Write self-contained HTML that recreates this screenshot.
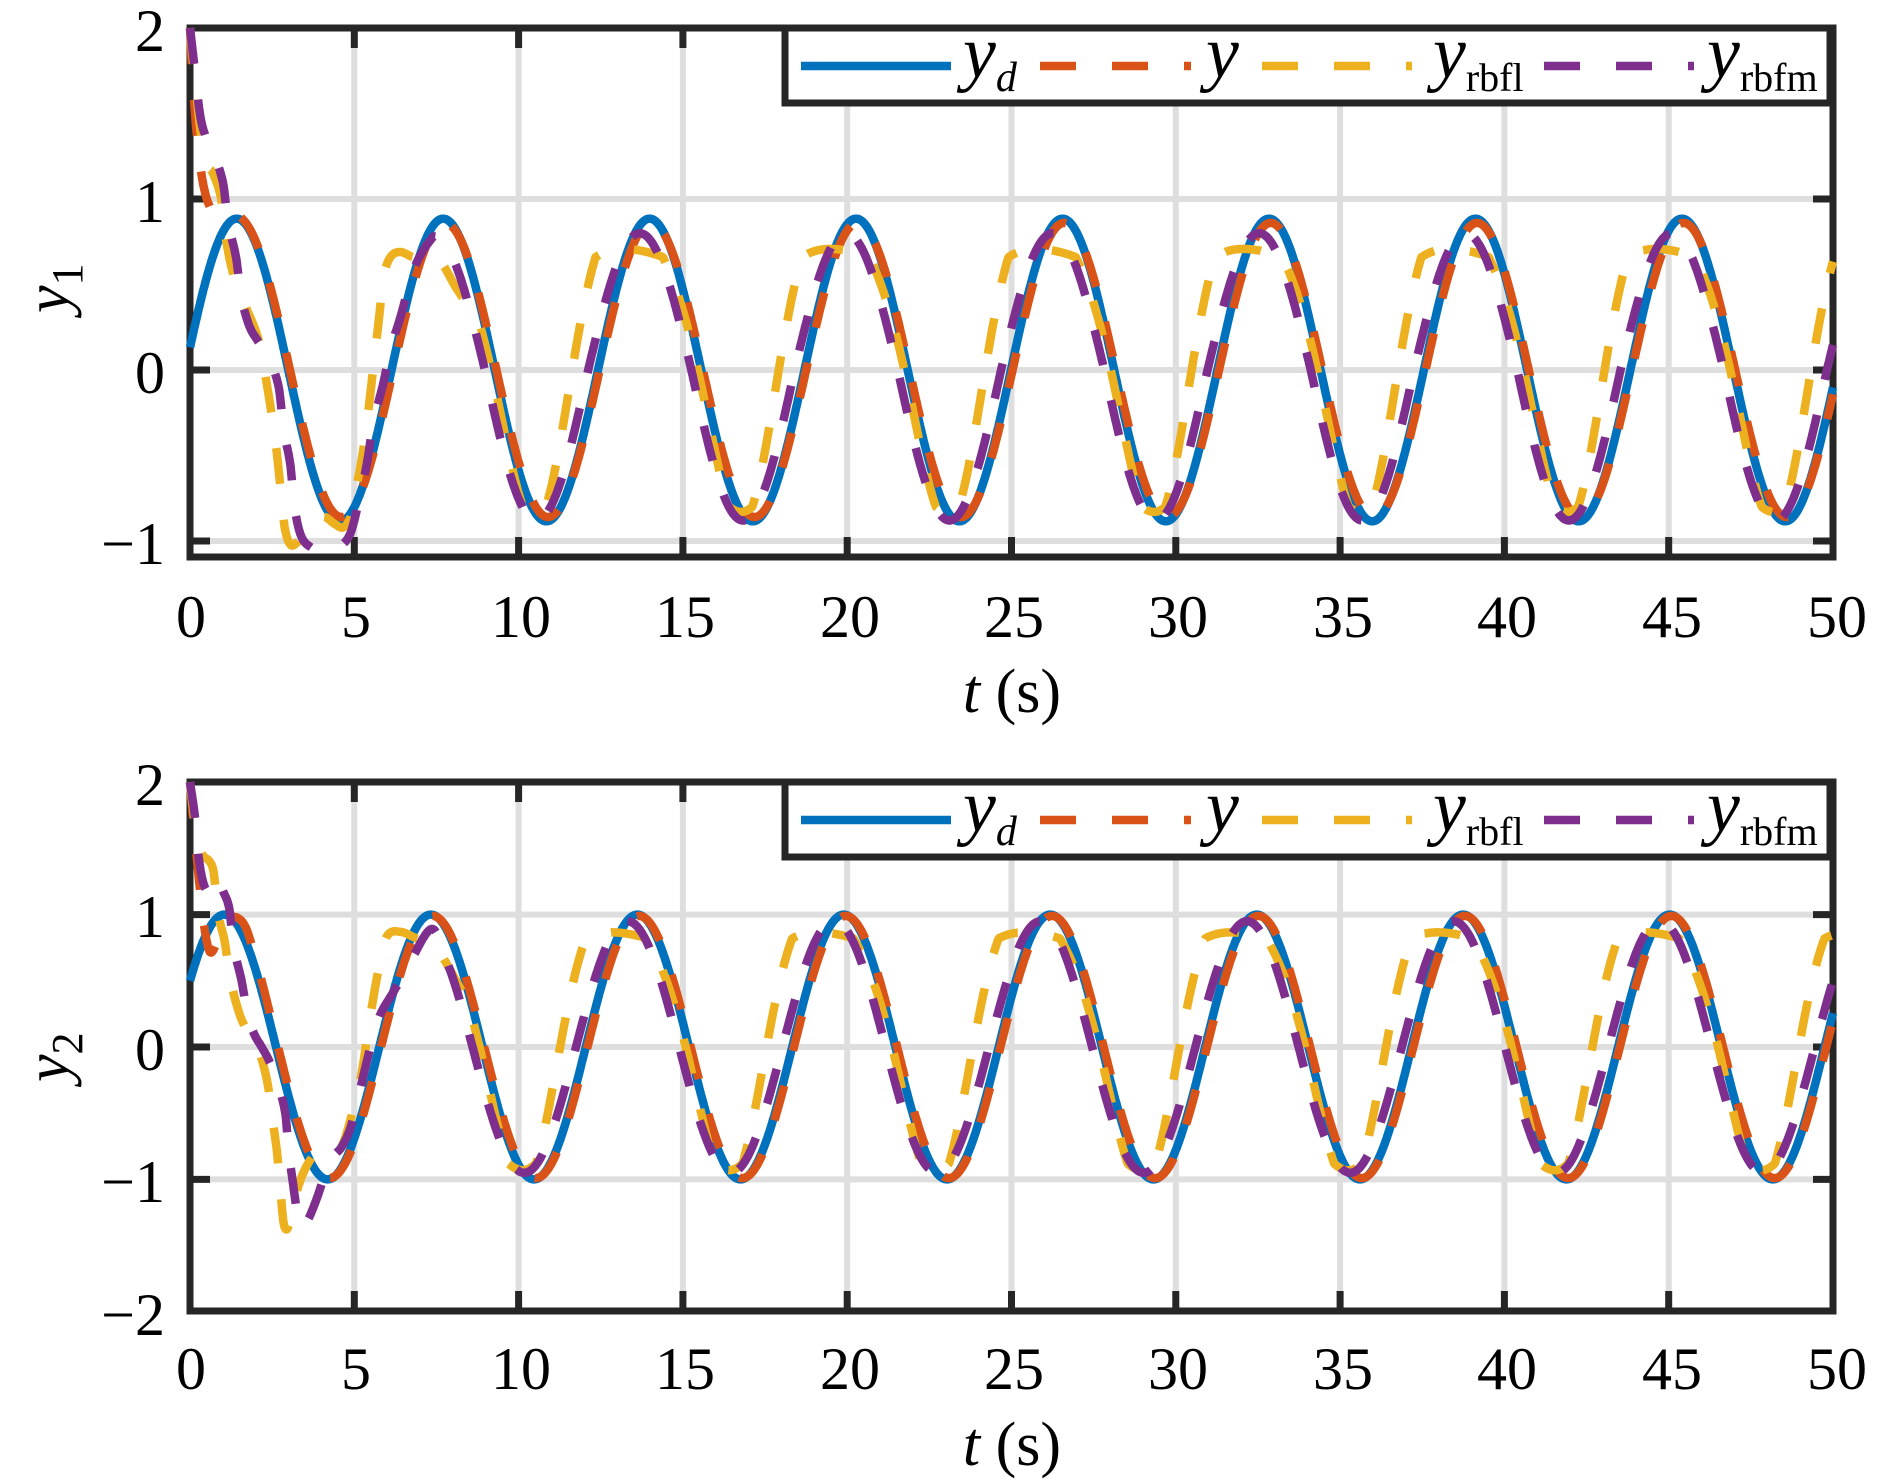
<!DOCTYPE html>
<html><head><meta charset="utf-8">
<style>
html,body{margin:0;padding:0;background:#fff;}
svg{display:block;}
text{font-family:"Liberation Serif","Times New Roman",serif;fill:#000;}
</style></head>
<body>
<svg width="1890" height="1484" viewBox="0 0 1890 1484" xmlns="http://www.w3.org/2000/svg">
<rect width="1890" height="1484" fill="#fff"/>

<!-- grid top -->
<g stroke="#dedede" stroke-width="6" fill="none">
<path d="M354.3 28V557M518.6 28V557M682.9 28V557M847.2 28V557M1011.5 28V557M1175.8 28V557M1340.1 28V557M1504.4 28V557M1668.7 28V557M190 199H1833M190 370H1833M190 541H1833"/>
<path d="M354.3 782V1311M518.6 782V1311M682.9 782V1311M847.2 782V1311M1011.5 782V1311M1175.8 782V1311M1340.1 782V1311M1504.4 782V1311M1668.7 782V1311M190 914.6H1833M190 1047H1833M190 1179.4H1833"/>
</g>

<!-- axes -->
<g stroke="#262626" stroke-width="7" fill="none">
<rect x="190" y="28" width="1643" height="529"/>
<path d="M354.3 557V537M518.6 557V537M682.9 557V537M847.2 557V537M1011.5 557V537M1175.8 557V537M1340.1 557V537M1504.4 557V537M1668.7 557V537
M354.3 28V48M518.6 28V48M682.9 28V48M847.2 28V48M1011.5 28V48M1175.8 28V48M1340.1 28V48M1504.4 28V48M1668.7 28V48
M190 199H210M190 370H210M190 541H210M1833 199H1813M1833 370H1813M1833 541H1813"/>
<rect x="190" y="782" width="1643" height="529"/>
<path d="M354.3 1311V1291M518.6 1311V1291M682.9 1311V1291M847.2 1311V1291M1011.5 1311V1291M1175.8 1311V1291M1340.1 1311V1291M1504.4 1311V1291M1668.7 1311V1291
M354.3 782V802M518.6 782V802M682.9 782V802M847.2 782V802M1011.5 782V802M1175.8 782V802M1340.1 782V802M1504.4 782V802M1668.7 782V802
M190 914.6H210M190 1047H210M190 1179.4H210M1833 914.6H1813M1833 1047H1813M1833 1179.4H1813"/>
</g>

<!-- tick labels top -->
<g font-size="60" text-anchor="end">
<text x="165" y="51">2</text>
<text x="165" y="222">1</text>
<text x="165" y="393">0</text>
<text x="165" y="564">−1</text>
<text x="165" y="805">2</text>
<text x="165" y="937">1</text>
<text x="165" y="1070">0</text>
<text x="165" y="1202">−1</text>
<text x="165" y="1335">−2</text>
</g>
<g font-size="60" text-anchor="middle">
<text x="191" y="637">0</text><text x="356" y="637">5</text><text x="521" y="637">10</text><text x="685" y="637">15</text><text x="850" y="637">20</text><text x="1014" y="637">25</text><text x="1178" y="637">30</text><text x="1343" y="637">35</text><text x="1507" y="637">40</text><text x="1672" y="637">45</text><text x="1837" y="637">50</text>
<text x="191" y="1389">0</text><text x="356" y="1389">5</text><text x="521" y="1389">10</text><text x="685" y="1389">15</text><text x="850" y="1389">20</text><text x="1014" y="1389">25</text><text x="1178" y="1389">30</text><text x="1343" y="1389">35</text><text x="1507" y="1389">40</text><text x="1672" y="1389">45</text><text x="1837" y="1389">50</text>
</g>

<!-- axis labels -->
<text x="1012" y="712" font-size="62" text-anchor="middle"><tspan font-style="italic">t</tspan> (s)</text>
<text x="1012" y="1465" font-size="62" text-anchor="middle"><tspan font-style="italic">t</tspan> (s)</text>
<text transform="translate(68,313) rotate(-90)" font-size="62"><tspan font-style="italic">y</tspan><tspan font-size="44" dy="14">1</tspan></text>
<text transform="translate(68,1082) rotate(-90)" font-size="62"><tspan font-style="italic">y</tspan><tspan font-size="44" dy="14">2</tspan></text>

<!-- data top -->
<g fill="none" stroke-width="8.5" stroke-linejoin="round">
<path id="tb" stroke="#0072BD"/>
<path id="to" stroke="#D95319" stroke-dasharray="36 36"/>
<path id="ty" stroke="#EDB120" stroke-dasharray="36 36"/>
<path id="tp" stroke="#7E2F8E" stroke-dasharray="36 36"/>
<path id="bb" stroke="#0072BD"/>
<path id="bo" stroke="#D95319" stroke-dasharray="36 36"/>
<path id="by" stroke="#EDB120" stroke-dasharray="36 36"/>
<path id="bp" stroke="#7E2F8E" stroke-dasharray="36 36"/>
</g>

<!-- legend top -->
<rect x="785" y="28" width="1045" height="75" fill="#fff" stroke="#262626" stroke-width="7"/>
<g fill="none" stroke-width="8.5">
<path d="M801 66H951" stroke="#0072BD"/>
<path d="M1040 66H1191" stroke="#D95319" stroke-dasharray="36 36"/>
<path d="M1262 66H1412" stroke="#EDB120" stroke-dasharray="36 36"/>
<path d="M1544 66H1694" stroke="#7E2F8E" stroke-dasharray="36 36"/>
</g>
<text x="963" y="77" font-size="74"><tspan font-style="italic">y</tspan><tspan font-size="42" font-style="italic" dy="14">d</tspan></text>
<text x="1206" y="77" font-size="74" font-style="italic">y</text>
<text x="1433" y="77" font-size="74"><tspan font-style="italic">y</tspan><tspan font-size="40" dy="14">rbfl</tspan></text>
<text x="1707" y="77" font-size="74"><tspan font-style="italic">y</tspan><tspan font-size="40" dy="14">rbfm</tspan></text>

<!-- legend bottom -->
<rect x="785" y="782" width="1045" height="75" fill="#fff" stroke="#262626" stroke-width="7"/>
<g fill="none" stroke-width="8.5">
<path d="M801 820H951" stroke="#0072BD"/>
<path d="M1040 820H1191" stroke="#D95319" stroke-dasharray="36 36"/>
<path d="M1262 820H1412" stroke="#EDB120" stroke-dasharray="36 36"/>
<path d="M1544 820H1694" stroke="#7E2F8E" stroke-dasharray="36 36"/>
</g>
<text x="963" y="831" font-size="74"><tspan font-style="italic">y</tspan><tspan font-size="42" font-style="italic" dy="14">d</tspan></text>
<text x="1206" y="831" font-size="74" font-style="italic">y</text>
<text x="1433" y="831" font-size="74"><tspan font-style="italic">y</tspan><tspan font-size="40" dy="14">rbfl</tspan></text>
<text x="1707" y="831" font-size="74"><tspan font-style="italic">y</tspan><tspan font-size="40" dy="14">rbfm</tspan></text>
</svg>

<script>
(function(){
var X=function(t){return 190+32.86*t;};
var YT=function(y){return 370-171*y;};
var YB=function(y){return 1047-132.4*y;};
function herm(p,t){
  var n=p.length;
  if(t<=p[0][0])return p[0][1];
  var i=0;
  while(i<n-2&&t>p[i+1][0])i++;
  var p0=p[Math.max(i-1,0)],p1=p[i],p2=p[i+1],p3=p[Math.min(i+2,n-1)];
  var h=p2[0]-p1[0];
  var u=(t-p1[0])/h;
  var m1=(p2[1]-p0[1])/(p2[0]-p0[0])*h;
  var m2=(p3[1]-p1[1])/(p3[0]-p1[0])*h;
  var u2=u*u,u3=u2*u;
  return (2*u3-3*u2+1)*p1[1]+(u3-2*u2+u)*m1+(-2*u3+3*u2)*p2[1]+(u3-u2)*m2;
}
function mk(pts,ss,tau){
  if(!pts)return ss;
  var te=pts[pts.length-1][0];
  var off=pts[pts.length-1][1]-ss(te);
  return function(t){return t<=te?herm(pts,t):ss(t)+off*Math.exp(-(t-te)/tau);};
}
function path(f,Y){
  var d='';
  for(var i=0;i<=2500;i++){
    var t=i*0.02;
    d+=(i?'L':'M')+X(t).toFixed(1)+' '+Y(f(t)).toFixed(1);
  }
  return d;
}
function set(id,d){document.getElementById(id).setAttribute('d',d);}

/* top plot */
var yd1=function(t){return 0.885*Math.sin(t+0.15);};
var o1=function(t){return 0.86*Math.sin(t+0.1)+(2-0.86*Math.sin(0.1))*Math.exp(-2.6*t);};
var yl1ss=function(t){var th=t+0.15;var tp=th+0.5+0.4*Math.cos(th);var s=0.9*Math.sin(tp);
  if(s>0.66)s=0.66+(s-0.66)*0.2; if(s<-0.8)s=-0.8+(s+0.8)*0.3; return s;};
var p1ss=function(t){var s=0.8*Math.sin(t+0.45);return s<0?s*1.1:s;};
var yl1pts=[[0,2.0],[0.15,1.7],[0.35,1.35],[0.52,1.2],[0.7,1.15],[0.96,0.99],[1.1,0.76],[1.32,0.56],[1.72,0.36],[2.08,0.18],[2.3,-0.04],[2.5,-0.28],[2.65,-0.5],[2.77,-0.72],[2.88,-0.92],[3.05,-1.02],[3.25,-1.01],[3.6,-0.93],[4.06,-0.86],[4.4,-0.9],[4.67,-0.92],[4.9,-0.85],[5.07,-0.68],[5.27,-0.47],[5.45,-0.2],[5.6,0.05],[5.75,0.3],[5.9,0.55],[6.1,0.66],[6.4,0.69],[6.8,0.66],[7.2,0.66],[7.6,0.64],[8.1,0.48],[8.8,0.28]];
var p1pts=[[0,2.0],[0.12,1.8],[0.3,1.5],[0.45,1.38],[0.71,1.27],[1.01,1.09],[1.15,0.87],[1.4,0.66],[1.55,0.44],[1.8,0.26],[2.1,0.16],[2.38,0.07],[2.7,-0.1],[2.85,-0.35],[3.05,-0.55],[3.18,-0.8],[3.38,-0.97],[3.7,-1.04],[3.96,-1.06],[4.46,-1.04],[4.87,-0.96],[5.17,-0.74],[5.38,-0.55],[5.58,-0.31],[5.88,-0.08],[6.1,0.12],[6.39,0.3],[6.8,0.58],[7.1,0.7],[7.4,0.78]];
set('tb',path(yd1,YT));
set('to',path(o1,YT));
set('ty',path(mk(yl1pts,yl1ss,0.5),YT));
set('tp',path(mk(p1pts,p1ss,0.5),YT));

/* bottom plot */
var yd2=function(t){return Math.sin(t+Math.PI/6);};
var o2ss=function(t){return 0.99*Math.sin(t+0.47);};
var yl2ss=function(t){var th=t+0.52;var tp=th+0.5+0.4*Math.cos(th);var s=1.05*Math.sin(tp);
  if(s>0.82)s=0.82+(s-0.82)*0.2; if(s<-0.88)s=-0.88+(s+0.88)*0.3; return s;};
var p2ss=function(t){return 0.95*Math.sin(t+0.82);};
var o2pts=[[0,2.0],[0.1,1.72],[0.2,1.45],[0.3,1.2],[0.42,0.93],[0.6,0.72],[0.8,0.78],[1.05,0.95],[1.4,0.98],[1.7,0.9],[2.03,0.64]];
var yl2pts=[[0,2.0],[0.15,1.7],[0.35,1.47],[0.6,1.4],[0.72,1.32],[0.85,1.02],[1.06,0.79],[1.22,0.52],[1.52,0.24],[1.8,0.1],[2.08,-0.02],[2.35,-0.26],[2.5,-0.53],[2.65,-0.8],[2.75,-1.08],[2.85,-1.33],[2.97,-1.37],[3.09,-1.23],[3.4,-0.98],[3.75,-0.82],[4.1,-0.74],[4.35,-0.76],[4.6,-0.76],[4.97,-0.47],[5.22,-0.2],[5.4,0.09],[5.6,0.4],[5.8,0.66],[6.0,0.84],[6.4,0.87],[6.9,0.82],[7.4,0.78],[8.1,0.5],[8.5,0.3]];
var p2pts=[[0,2.0],[0.15,1.74],[0.28,1.4],[0.46,1.2],[0.6,1.2],[0.8,1.29],[1.0,1.18],[1.2,1.04],[1.32,0.77],[1.57,0.5],[1.75,0.25],[1.95,0.1],[2.18,0.0],[2.4,-0.1],[2.64,-0.26],[2.9,-0.5],[3.0,-0.78],[3.14,-1.04],[3.28,-1.28],[3.42,-1.36],[3.6,-1.3],[3.85,-1.15],[4.26,-0.86],[4.6,-0.76],[4.87,-0.62],[5.1,-0.4],[5.37,-0.12],[5.6,0.1],[5.8,0.25],[6.2,0.42],[6.7,0.64],[7.2,0.86],[7.45,0.88],[7.7,0.71]];
set('bb',path(yd2,YB));
set('bo',path(mk(o2pts,o2ss,0.4),YB));
set('by',path(mk(yl2pts,yl2ss,0.5),YB));
set('bp',path(mk(p2pts,p2ss,0.5),YB));
})();
</script>
</body></html>
